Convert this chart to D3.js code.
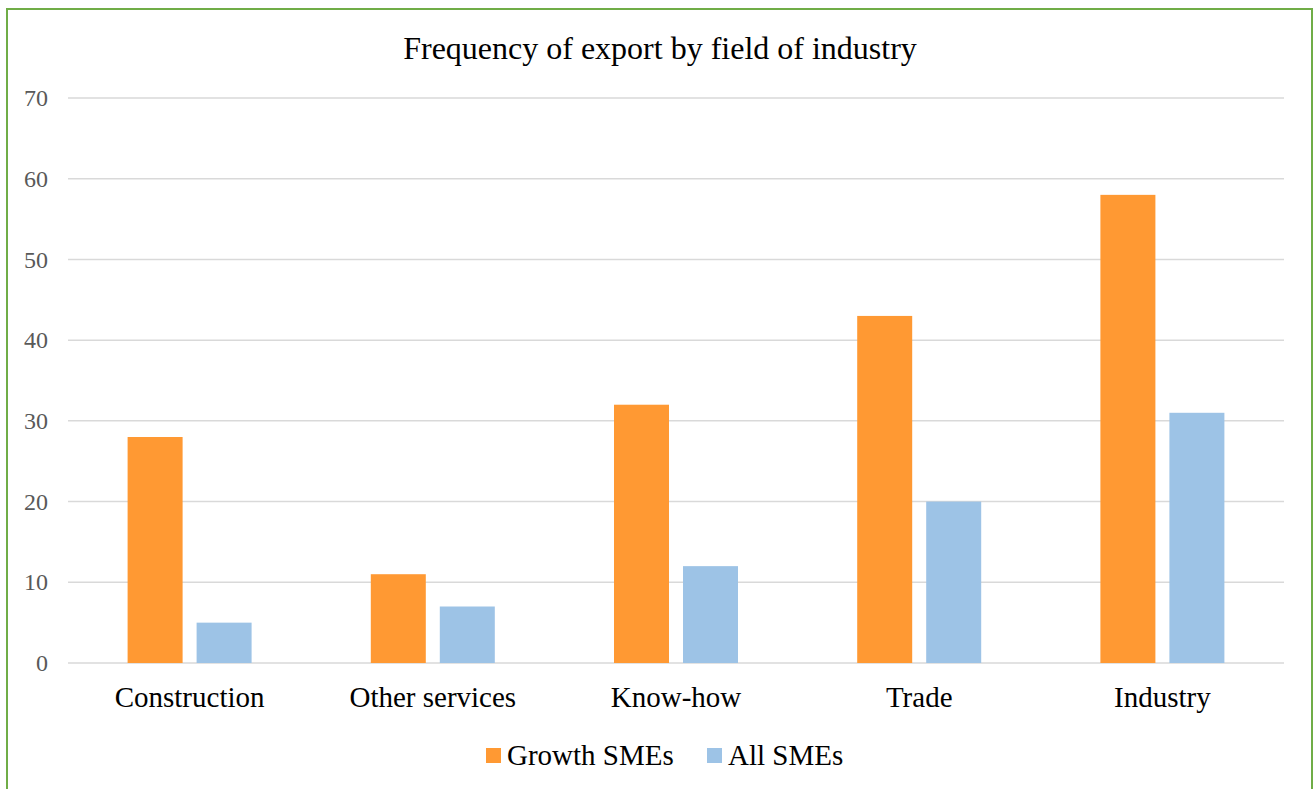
<!DOCTYPE html>
<html>
<head>
<meta charset="utf-8">
<script src="https://cdn.jsdelivr.net/npm/d3@7"></script>
<style>
  html, body { margin: 0; padding: 0; background: #ffffff; }
  svg { display: block; }
</style>
</head>
<body>
<svg id="chart" width="1314" height="789"></svg>
<script>
// Export frequency per industry field
const categories = ["Construction", "Other services", "Know-how", "Trade", "Industry"];
const seriesNames = ["Growth SMEs", "All SMEs"];
const growthSMEs = [28, 11, 32, 43, 58];
const allSMEs = [5, 7, 12, 20, 31];
const yTicks = [0, 10, 20, 30, 40, 50, 60, 70];
const colors = ["#FF9933", "#9DC3E6"];

const svg = d3.select("#chart");
const serif = "'Liberation Serif', 'Times New Roman', serif";

// outer frame
svg.append("rect")
  .attr("x", 7).attr("y", 9)
  .attr("width", 1305).attr("height", 800)
  .attr("fill", "#ffffff")
  .attr("stroke", "#70AD47").attr("stroke-width", 2);

const plot = { left: 68, right: 1284, top: 98, bottom: 663 };

const x = d3.scaleBand().domain(categories).range([plot.left, plot.right]);
const y = d3.scaleLinear().domain([0, 70]).range([plot.bottom, plot.top]);
// two bars of 55px separated by a 14px gap inside each category
const groupWidth = 124;
const inner = d3.scaleBand().domain(seriesNames).range([0, groupWidth]).paddingInner(14 / 69);

// gridlines
svg.append("g").selectAll("line").data(yTicks).join("line")
  .attr("x1", plot.left).attr("x2", plot.right)
  .attr("y1", d => y(d)).attr("y2", d => y(d))
  .attr("stroke", "#D9D9D9").attr("stroke-width", 1.5);

// y-axis labels
const yAxis = d3.axisLeft(y).tickValues(yTicks).tickSize(0).tickPadding(0);
const gy = svg.append("g").attr("transform", `translate(48,0)`).call(yAxis);
gy.select(".domain").remove();
gy.selectAll("text")
  .attr("font-family", serif).attr("font-size", 24).attr("fill", "#595959");

// bars
const series = [growthSMEs, allSMEs];
const groupOffset = (x.bandwidth() - groupWidth) / 2;
const groups = svg.append("g").selectAll("g").data(categories).join("g")
  .attr("transform", d => `translate(${x(d) + groupOffset},0)`);
groups.selectAll("rect")
  .data((c, i) => seriesNames.map((s, k) => ({ s, v: series[k][i], k })))
  .join("rect")
  .attr("x", d => inner(d.s))
  .attr("width", inner.bandwidth())
  .attr("y", d => y(d.v))
  .attr("height", d => y(0) - y(d.v))
  .attr("fill", d => colors[d.k]);

// x-axis labels
const xAxis = d3.axisBottom(x).tickSize(0).tickPadding(0);
const gx = svg.append("g").attr("transform", `translate(0,${plot.bottom})`).call(xAxis);
gx.select(".domain").remove();
gx.selectAll("text")
  .attr("y", 44).attr("dy", null)
  .attr("font-family", serif).attr("font-size", 29).attr("fill", "#000000");

// title
svg.append("text")
  .attr("x", 660).attr("y", 59)
  .attr("text-anchor", "middle")
  .attr("font-family", serif).attr("font-size", 32).attr("fill", "#000000")
  .text("Frequency of export by field of industry");

// legend
const legendItems = [
  { name: seriesNames[0], color: colors[0], x: 486 },
  { name: seriesNames[1], color: colors[1], x: 707 }
];
const lg = svg.append("g").selectAll("g").data(legendItems).join("g")
  .attr("transform", d => `translate(${d.x},0)`);
lg.append("rect").attr("x", 0).attr("y", 748).attr("width", 15).attr("height", 15)
  .attr("fill", d => d.color);
lg.append("text").attr("x", 21).attr("y", 765)
  .attr("font-family", serif).attr("font-size", 29).attr("fill", "#000000")
  .text(d => d.name);
</script>
</body>
</html>
